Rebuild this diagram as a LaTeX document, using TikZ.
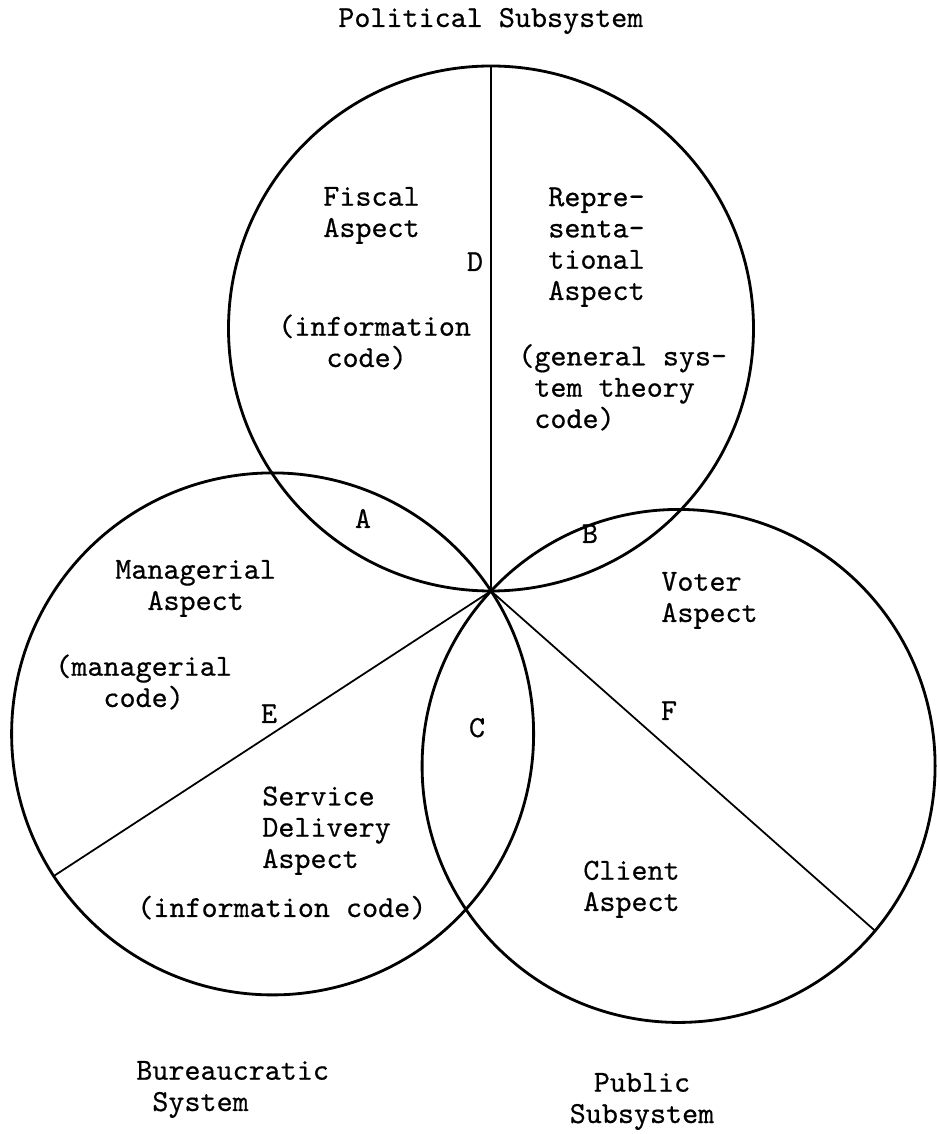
\documentclass[tikz,border=0pt]{standalone}
\usepackage{fontspec}
\usepackage{tikz}
\newfontfamily\typew{lmmono10-regular}[Extension=.otf,FakeBold=0.5]

\begin{document}
\begin{tikzpicture}[x=1cm,y=1cm,
  aspect/.style={draw,circle,line width=1.6pt,inner sep=0pt,outer sep=0pt},
  cut/.style={line width=1pt},
  lbl/.style={font=\typew\fontsize{17.4}{17.8}\selectfont,inner sep=0pt,align=left,anchor=base west},
  tag/.style={font=\typew\fontsize{17.4}{17.8}\selectfont,inner sep=0pt,anchor=base}]
\useasboundingbox (0,0) rectangle (18.72,22.68);
\coordinate (hub) at (9.82,10.86);
% the three subsystems
\node[aspect,minimum size=10.50cm] (polit) at ([shift={(90:5.25)}]hub) {};
\node[aspect,minimum size=10.44cm] (bureau) at ([shift={(213.2:5.22)}]hub) {};
\node[aspect,minimum size=10.26cm] (public) at ([shift={(-43:5.13)}]hub) {};
\draw[cut] (hub) -- (polit.north);
\draw[cut] (hub) -- (bureau.213.2);
\draw[cut] (hub) -- (public.-40);
% titles
\node[lbl] (politlbl) at (6.76,22.14) {Political Subsystem};
\node[lbl] (bureaulbl) at (2.72,0.46) {Bureaucratic\\~System};
\node[font=\typew\fontsize{17.4}{17.8}\selectfont,inner sep=0pt,align=center,anchor=base] (publiclbl) at (12.84,0.22) {Public\\Subsystem};
% aspects (base = last line)
\node[lbl] (fiscal) at (6.46,17.94) {Fiscal\\Aspect};
\node[lbl] (fiscalcode) at (5.56,15.34) {(information\\~~~code)};
\node[lbl] (repr) at (10.96,16.68) {Repre-\\senta-\\tional\\Aspect};
\node[lbl] (reprcode) at (10.36,14.12) {(general sys-\\~tem theory\\~code)};
\node[lbl] (manag) at (2.30,10.48) {Managerial\\~~Aspect};
\node[lbl] (managcode) at (1.10,8.54) {(managerial\\~~~code)};
\node[lbl] (service) at (5.24,5.32) {Service\\Delivery\\Aspect};
\node[lbl] (servicecode) at (2.74,4.34) {(information code)};
\node[lbl] (voter) at (13.22,10.24) {Voter\\Aspect};
\node[lbl] (client) at (11.66,4.46) {Client\\Aspect};
% overlaps and cuts
\node[tag] (tagA) at (7.26,12.12) {A};
\node[tag] (tagB) at (11.80,11.82) {B};
\node[tag] (tagC) at (9.54,7.94) {C};
\node[tag] (tagD) at (9.50,17.26) {D};
\node[tag] (tagE) at (5.38,8.22) {E};
\node[tag] (tagF) at (13.38,8.28) {F};
\end{tikzpicture}
\end{document}
